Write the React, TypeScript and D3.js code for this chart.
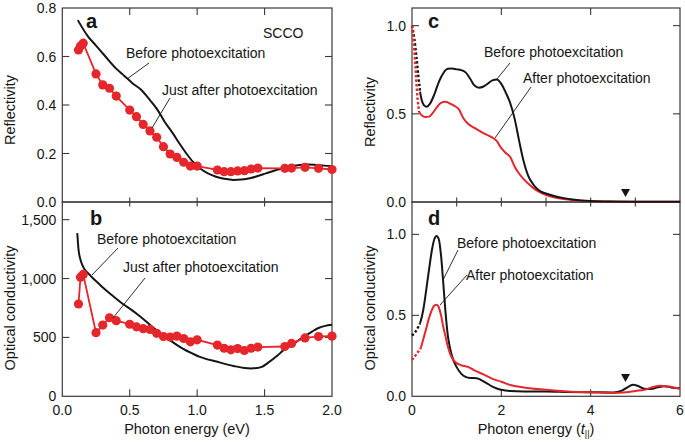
import React from 'react';
import * as d3 from 'd3';

// ---- experiment (panels a, b), photon energy in eV ----
const pumpEnergy = [0.12, 0.135, 0.155, 0.25, 0.3, 0.35, 0.4, 0.5, 0.55, 0.6, 0.65, 0.7, 0.75, 0.8, 0.85, 0.9, 0.95, 1.0,
  1.15, 1.2, 1.25, 1.3, 1.35, 1.4, 1.45, 1.65, 1.7, 1.8, 1.9, 2.0];
const pumpReflectivity = [0.627, 0.643, 0.655, 0.528, 0.483, 0.469, 0.437, 0.379, 0.352, 0.32, 0.293, 0.267, 0.228, 0.198,
  0.184, 0.164, 0.148, 0.148, 0.132, 0.125, 0.125, 0.128, 0.129, 0.136, 0.14, 0.139, 0.14, 0.143, 0.139, 0.134];
const pumpConductivity = [784, 1012, 1035, 540, 605, 667, 642, 612, 590, 574, 568, 535, 508, 503, 511, 491, 463, 480,
  435, 408, 395, 405, 389, 408, 418, 423, 449, 496, 508, 511];

const staticEnergyA = [0.115, 0.19, 0.25, 0.32, 0.4, 0.46, 0.52, 0.59, 0.65, 0.7, 0.76, 0.82, 0.87, 0.92, 0.97, 1.02,
  1.08, 1.14, 1.2, 1.27, 1.33, 1.39, 1.45, 1.51, 1.57, 1.64, 1.7, 1.76, 1.82, 1.88, 1.94, 2.0];
const staticReflectivity = [0.75, 0.683, 0.645, 0.6, 0.55, 0.52, 0.49, 0.46, 0.42, 0.385, 0.33, 0.283, 0.24, 0.2, 0.165,
  0.139, 0.118, 0.104, 0.096, 0.091, 0.093, 0.098, 0.107, 0.118, 0.129, 0.139, 0.147, 0.153, 0.155, 0.153, 0.15, 0.148];

const staticEnergyB = [0.111, 0.12, 0.135, 0.15, 0.2, 0.28, 0.38, 0.46, 0.5, 0.58, 0.68, 0.78, 0.9, 0.98, 1.02, 1.15,
  1.27, 1.35, 1.4, 1.44, 1.48, 1.52, 1.6, 1.64, 1.72, 1.77, 1.85, 1.9, 1.95, 2.0];
const staticConductivity = [1386, 1250, 1160, 1110, 1035, 946, 847, 775, 745, 676, 577, 491, 400, 355, 335, 293,
  258, 240, 236, 240, 250, 280, 350, 392, 449, 491, 548, 580, 598, 608];

// ---- model (panels c, d), photon energy in units of t|| ----
const cBeforeDotX = [0, 0.05, 0.1, 0.14, 0.18];
const cBeforeDotY = [1.0, 0.93, 0.82, 0.72, 0.625];
const cAfterDotX = [0, 0.04, 0.08, 0.12, 0.16];
const cAfterDotY = [1.0, 0.9, 0.75, 0.6, 0.51];
const cBeforeX = [0.18, 0.22, 0.27, 0.33, 0.4, 0.5, 0.6, 0.7, 0.8, 0.9, 1.0, 1.1, 1.2, 1.3, 1.4, 1.5, 1.6, 1.7, 1.8, 1.9,
  2.0, 2.1, 2.2, 2.3, 2.4, 2.5, 2.6, 2.7, 2.8, 2.9, 3.0, 3.2, 3.4, 3.6, 3.8, 4.0, 4.5, 5.0, 6.0];
const cBeforeY = [0.625, 0.575, 0.548, 0.54, 0.556, 0.61, 0.68, 0.73, 0.755, 0.757, 0.752, 0.748, 0.735, 0.7, 0.66,
  0.648, 0.655, 0.672, 0.69, 0.695, 0.67, 0.62, 0.56, 0.47, 0.345, 0.23, 0.15, 0.105, 0.075, 0.058, 0.048, 0.033,
  0.022, 0.014, 0.009, 0.006, 0.003, 0.002, 0.001];
const cAfterX = [0.16, 0.22, 0.3, 0.38, 0.45, 0.55, 0.65, 0.75, 0.85, 0.95, 1.05, 1.15, 1.25, 1.4, 1.6, 1.8, 1.9, 2.0,
  2.1, 2.2, 2.3, 2.4, 2.5, 2.6, 2.7, 2.8, 3.0, 3.2, 3.4, 3.7, 4.0, 4.5, 5.0, 6.0];
const cAfterY = [0.51, 0.49, 0.482, 0.484, 0.5, 0.535, 0.562, 0.568, 0.558, 0.545, 0.525, 0.475, 0.445, 0.42, 0.39,
  0.365, 0.345, 0.305, 0.278, 0.255, 0.2, 0.16, 0.13, 0.105, 0.083, 0.064, 0.04, 0.026, 0.017, 0.009, 0.005, 0.002,
  0.001, 0.001];

const dBeforeDotX = [0, 0.08, 0.18];
const dBeforeDotY = [0.375, 0.4, 0.45];
const dAfterDotX = [0, 0.1, 0.2];
const dAfterDotY = [0.225, 0.26, 0.3];
const dBeforeX = [0.18, 0.25, 0.3, 0.35, 0.4, 0.45, 0.5, 0.55, 0.6, 0.65, 0.7, 0.75, 0.8, 0.85, 0.9, 1.0, 1.1, 1.2, 1.3,
  1.45, 1.55, 1.65, 1.8, 1.9, 2.0, 2.2, 2.5, 3.0, 3.5, 4.0, 4.5, 4.7, 4.85, 4.95, 5.05, 5.2, 5.35, 5.5, 5.65, 5.8, 6.0];
const dBeforeY = [0.45, 0.53, 0.62, 0.72, 0.82, 0.91, 0.97, 0.99, 0.97, 0.87, 0.7, 0.52, 0.38, 0.3, 0.245, 0.18, 0.14,
  0.12, 0.113, 0.112, 0.1, 0.085, 0.06, 0.048, 0.04, 0.032, 0.029, 0.03, 0.027, 0.025, 0.024, 0.035, 0.06, 0.072,
  0.065, 0.047, 0.045, 0.055, 0.062, 0.055, 0.05];
const dAfterX = [0.2, 0.3, 0.4, 0.5, 0.55, 0.6, 0.65, 0.7, 0.75, 0.8, 0.85, 0.9, 1.0, 1.1, 1.25, 1.4, 1.6, 1.8, 2.0,
  2.2, 2.5, 3.0, 3.5, 4.0, 4.5, 4.8, 5.0, 5.2, 5.4, 5.55, 5.75, 6.0];
const dAfterY = [0.3, 0.4, 0.5, 0.56, 0.565, 0.55, 0.5, 0.43, 0.37, 0.31, 0.265, 0.235, 0.205, 0.192, 0.182, 0.16,
  0.135, 0.108, 0.09, 0.07, 0.055, 0.04, 0.03, 0.025, 0.02, 0.025, 0.033, 0.04, 0.058, 0.065, 0.06, 0.045];

const markerEnergy = 4.78;

const ticksEv = [0, 0.5, 1.0, 1.5, 2.0];
const ticksReflA = [0, 0.2, 0.4, 0.6, 0.8];
const ticksCondB = [0, 500, 1000, 1500];
const ticksT = [0, 2, 4, 6];
const ticksTMinor = [1, 2, 3, 4, 5];
const ticksModel = [0, 0.5, 1.0];

const FONT = '"Liberation Sans", Arial, Helvetica, sans-serif';
const RED = '#e5262b';
const INK = '#151515';
const FRAME = '#3a3a3a';

const zip = (xs: number[], ys: number[]) => xs.map((x, i) => [x, ys[i]] as [number, number]);

// layout
const LX = [62.3, 332];
const RX = [412, 680];
const TOP = 8;
const MID = 202;
const BOT = 396.3;
const TL = 7;

const xA = d3.scaleLinear().domain([0, 2]).range(LX);
const yA = d3.scaleLinear().domain([0, 0.8]).range([MID, TOP]);
const yB = d3.scaleLinear().domain([0, 1650]).range([BOT, MID]);
const xC = d3.scaleLinear().domain([0, 6]).range(RX);
const yC = d3.scaleLinear().domain([0, 1.1]).range([MID, TOP]);
const yD = d3.scaleLinear().domain([0, 1.2]).range([BOT, MID]);

function pathFor(x: d3.ScaleLinear<number, number>, y: d3.ScaleLinear<number, number>, pts: [number, number][], curve: any) {
  return d3.line<[number, number]>().x(d => x(d[0])).y(d => y(d[1])).curve(curve)(pts) || '';
}

const fmtComma = d3.format(',');

function YTicks({ y, ticks, x0, x1, fmt, skipTop }: any) {
  return (
    <g>
      {ticks.map((t: number, i: number) => (
        <g key={i}>
          {t !== 0 && !(skipTop && i === ticks.length - 1) && (
            <>
              <line x1={x0} x2={x0 + TL} y1={y(t)} y2={y(t)} stroke={FRAME} strokeWidth={1.1} />
              <line x1={x1} x2={x1 - TL} y1={y(t)} y2={y(t)} stroke={FRAME} strokeWidth={1.1} />
            </>
          )}
          <text x={x0 - 6} y={y(t) + 5} textAnchor="end" fontSize={14} fill={INK}>{fmt(t)}</text>
        </g>
      ))}
    </g>
  );
}

function Leader({ p }: { p: number[] }) {
  return <line x1={p[0]} y1={p[1]} x2={p[2]} y2={p[3]} stroke={INK} strokeWidth={0.9} />;
}

function Tri({ cx, cy }: { cx: number; cy: number }) {
  return <path d={`M${cx - 4.5},${cy - 4} L${cx + 4.5},${cy - 4} L${cx},${cy + 4} Z`} fill={INK} />;
}

export default function App() {
  const pumpA = zip(pumpEnergy, pumpReflectivity);
  const pumpB = zip(pumpEnergy, pumpConductivity);
  const smooth = d3.curveMonotoneX;

  return (
    <svg width={685} height={442} style={{ position: 'absolute', left: 0, top: 0, fontFamily: FONT }}>
      <rect width={685} height={442} fill="#fff" />

      {/* frames */}
      <rect x={LX[0]} y={TOP} width={LX[1] - LX[0]} height={MID - TOP} fill="none" stroke={FRAME} strokeWidth={1.2} />
      <rect x={LX[0]} y={MID} width={LX[1] - LX[0]} height={BOT - MID} fill="none" stroke={FRAME} strokeWidth={1.2} />
      <rect x={RX[0]} y={TOP} width={RX[1] - RX[0]} height={MID - TOP} fill="none" stroke={FRAME} strokeWidth={1.2} />
      <rect x={RX[0]} y={MID} width={RX[1] - RX[0]} height={BOT - MID} fill="none" stroke={FRAME} strokeWidth={1.2} />

      {/* x ticks, left column */}
      {ticksEv.slice(1, -1).map((t, i) => (
        <g key={'ev' + i} stroke={FRAME} strokeWidth={1.1}>
          <line x1={xA(t)} x2={xA(t)} y1={TOP} y2={TOP + TL} />
          <line x1={xA(t)} x2={xA(t)} y1={MID - 4.5} y2={MID + 4.5} />
          <line x1={xA(t)} x2={xA(t)} y1={BOT} y2={BOT - TL} />
        </g>
      ))}
      {ticksEv.map((t, i) => (
        <text key={'evl' + i} x={xA(t)} y={415} textAnchor="middle" fontSize={14} fill={INK}>{t.toFixed(1)}</text>
      ))}

      {/* x ticks, right column */}
      {ticksT.slice(1, -1).map((t, i) => (
        <g key={'t' + i} stroke={FRAME} strokeWidth={1.1}>
          <line x1={xC(t)} x2={xC(t)} y1={TOP} y2={TOP + TL} />
          <line x1={xC(t)} x2={xC(t)} y1={BOT} y2={BOT - TL} />
        </g>
      ))}
      {ticksTMinor.map((t, i) => (
        <line key={'tm' + i} x1={xC(t)} x2={xC(t)} y1={MID - 4.5} y2={MID + 4.5} stroke={FRAME} strokeWidth={1.1} />
      ))}
      {ticksT.map((t, i) => (
        <text key={'tl' + i} x={xC(t)} y={415} textAnchor="middle" fontSize={14} fill={INK}>{t}</text>
      ))}

      {/* y ticks */}
      <YTicks y={yA} ticks={ticksReflA} x0={LX[0]} x1={LX[1]} fmt={(t: number) => t.toFixed(1)} skipTop />
      <YTicks y={yB} ticks={ticksCondB} x0={LX[0]} x1={LX[1]} fmt={fmtComma} />
      <YTicks y={yC} ticks={ticksModel} x0={RX[0]} x1={RX[1]} fmt={(t: number) => t.toFixed(1)} />
      <YTicks y={yD} ticks={ticksModel} x0={RX[0]} x1={RX[1]} fmt={(t: number) => t.toFixed(1)} />

      {/* axis titles */}
      <text transform="translate(15,110) rotate(-90)" textAnchor="middle" fontSize={14.5} fill={INK}>Reflectivity</text>
      <text transform="translate(15,308) rotate(-90)" textAnchor="middle" fontSize={14.5} fill={INK}>Optical conductivity</text>
      <text transform="translate(375,112) rotate(-90)" textAnchor="middle" fontSize={14.5} fill={INK}>Reflectivity</text>
      <text transform="translate(375,308) rotate(-90)" textAnchor="middle" fontSize={14.5} fill={INK}>Optical conductivity</text>
      <text x={187} y={434} textAnchor="middle" fontSize={14.5} fill={INK}>Photon energy (eV)</text>
      <text x={536} y={434} textAnchor="middle" fontSize={14.5} fill={INK}>
        Photon energy (<tspan fontStyle="italic">t</tspan>
        <tspan fontSize={9} dy={3}>||</tspan>
        <tspan dy={-3}>)</tspan>
      </text>

      {/* panel a */}
      <path d={pathFor(xA, yA, zip(staticEnergyA, staticReflectivity), smooth)} fill="none" stroke={INK} strokeWidth={2} />
      <path d={pathFor(xA, yA, pumpA, d3.curveLinear)} fill="none" stroke={RED} strokeWidth={1.8} />
      {pumpA.map((d, i) => <circle key={'pa' + i} cx={xA(d[0])} cy={yA(d[1])} r={4.6} fill={RED} />)}
      <text x={86} y={28} fontSize={20} fontWeight="bold" fill={INK}>a</text>
      <text x={263} y={38} fontSize={14} fill={INK}>SCCO</text>
      <text x={126} y={58} fontSize={14} fill={INK}>Before photoexcitation</text>
      <text x={162} y={95} fontSize={14} fill={INK}>Just after photoexcitation</text>
      <Leader p={[149, 63, 127, 79]} />
      <Leader p={[170, 98, 152, 128]} />

      {/* panel b */}
      <path d={pathFor(xA, yB, zip(staticEnergyB, staticConductivity), smooth)} fill="none" stroke={INK} strokeWidth={2} />
      <path d={pathFor(xA, yB, pumpB, d3.curveLinear)} fill="none" stroke={RED} strokeWidth={1.8} />
      {pumpB.map((d, i) => <circle key={'pb' + i} cx={xA(d[0])} cy={yB(d[1])} r={4.6} fill={RED} />)}
      <text x={90} y={225} fontSize={20} fontWeight="bold" fill={INK}>b</text>
      <text x={97} y={244} fontSize={14} fill={INK}>Before photoexcitation</text>
      <text x={123} y={272} fontSize={14} fill={INK}>Just after photoexcitation</text>
      <Leader p={[118, 248, 92, 275]} />
      <Leader p={[145, 278, 113, 318]} />

      {/* panel c */}
      <path d={pathFor(xC, yC, zip(cBeforeDotX, cBeforeDotY), smooth)} fill="none" stroke={INK} strokeWidth={2.4} strokeDasharray="2.5,2" />
      <path d={pathFor(xC, yC, zip(cAfterDotX, cAfterDotY), smooth)} fill="none" stroke={RED} strokeWidth={2.4} strokeDasharray="2.5,2" />
      <path d={pathFor(xC, yC, zip(cAfterX, cAfterY), smooth)} fill="none" stroke={RED} strokeWidth={2} />
      <path d={pathFor(xC, yC, zip(cBeforeX, cBeforeY), smooth)} fill="none" stroke={INK} strokeWidth={2} />
      <Tri cx={xC(markerEnergy)} cy={193} />
      <text x={428} y={28} fontSize={20} fontWeight="bold" fill={INK}>c</text>
      <text x={484} y={57} fontSize={14} fill={INK}>Before photoexcitation</text>
      <text x={523} y={83} fontSize={14} fill={INK}>After photoexcitation</text>
      <Leader p={[510, 63, 497, 79]} />
      <Leader p={[531, 87, 495, 138]} />

      {/* panel d */}
      <path d={pathFor(xC, yD, zip(dBeforeDotX, dBeforeDotY), smooth)} fill="none" stroke={INK} strokeWidth={2.4} strokeDasharray="2.5,2" />
      <path d={pathFor(xC, yD, zip(dAfterDotX, dAfterDotY), smooth)} fill="none" stroke={RED} strokeWidth={2.4} strokeDasharray="2.5,2" />
      <path d={pathFor(xC, yD, zip(dBeforeX, dBeforeY), smooth)} fill="none" stroke={INK} strokeWidth={2} />
      <path d={pathFor(xC, yD, zip(dAfterX, dAfterY), smooth)} fill="none" stroke={RED} strokeWidth={2} />
      <Tri cx={xC(markerEnergy)} cy={378} />
      <text x={428} y={225} fontSize={20} fontWeight="bold" fill={INK}>d</text>
      <text x={457} y={248} fontSize={14} fill={INK}>Before photoexcitation</text>
      <text x={466} y={280} fontSize={14} fill={INK}>After photoexcitation</text>
      <Leader p={[458, 250, 443, 280]} />
      <Leader p={[467, 275, 440, 305]} />
    </svg>
  );
}
